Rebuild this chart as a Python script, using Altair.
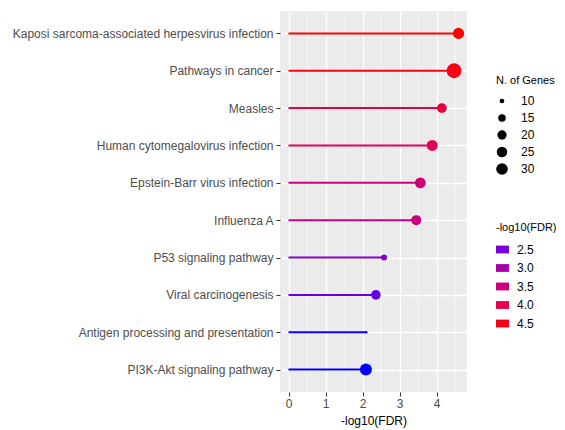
import altair as alt
import pandas as pd

pathways = [
    "Kaposi sarcoma-associated herpesvirus infection",
    "Pathways in cancer",
    "Measles",
    "Human cytomegalovirus infection",
    "Epstein-Barr virus infection",
    "Influenza A",
    "P53 signaling pathway",
    "Viral carcinogenesis",
    "Antigen processing and presentation",
    "PI3K-Akt signaling pathway",
]
neg_log10_fdr = [4.59, 4.47, 4.14, 3.88, 3.56, 3.45, 2.58, 2.36, 2.10, 2.09]
gene_counts = [28, 52, 22, 27, 26, 23, 12, 21, 8, 32]

x_ticks = [0, 1, 2, 3, 4]
x_minor = [0.5, 1.5, 2.5, 3.5, 4.5]
size_legend_values = [10, 15, 20, 25, 30]
color_legend_values = [2.5, 3.0, 3.5, 4.0, 4.5]

df = pd.DataFrame({"pathway": pathways, "fdr": neg_log10_fdr, "genes": gene_counts})
minor_df = pd.DataFrame({"m": x_minor})

xmax = max(neg_log10_fdr)
x_domain = [-0.05 * xmax, xmax * 1.05]

x_scale = alt.Scale(domain=x_domain, nice=False, zero=False)
x_axis = alt.Axis(
    values=x_ticks, title="-log10(FDR)", labelFontSize=12, labelColor="#4D4D4D",
    tickColor="#333333", tickSize=4, labelPadding=2, domain=False, grid=True,
    gridColor="white", gridWidth=1.3, titleFontSize=12, titleFontWeight="normal",
    titleColor="black", titlePadding=6,
)
y_enc = alt.Y(
    "pathway:N",
    sort=pathways,
    scale=alt.Scale(type="point", padding=0.6),
    axis=alt.Axis(
        title=None, labelFontSize=12, labelColor="#4D4D4D", tickColor="#333333",
        tickSize=4, labelPadding=3, domain=False, grid=True, gridColor="white",
        gridWidth=1.3, labelLimit=400,
    ),
)
color_scale = alt.Scale(
    domain=[min(neg_log10_fdr), max(neg_log10_fdr)], range=["#0000FF", "#FF0000"],
    interpolate="lab", zero=False, nice=False,
)
color_legend = alt.Legend(
    title="-log10(FDR)", type="symbol", values=color_legend_values, format=".1f",
    orient="none", legendX=216, legendY=211, symbolType="M-1,-0.6H1V0.6H-1Z",
    symbolSize=169, symbolStrokeWidth=0, labelFontSize=12, labelColor="black",
    titleFontSize=11, titleFontWeight="normal", titleColor="black",
    titlePadding=10, rowPadding=5.5, labelOffset=8, symbolOpacity=1,
)

minor = alt.Chart(minor_df).mark_rule(color="white", strokeWidth=0.6).encode(
    x=alt.X("m:Q", scale=x_scale, axis=x_axis, title="-log10(FDR)")
)

segs = alt.Chart(df).mark_rule(strokeWidth=2).encode(
    x=alt.X("zero:Q", scale=x_scale, axis=x_axis, title="-log10(FDR)"),
    x2="fdr:Q",
    y=y_enc,
    color=alt.Color("fdr:Q", scale=color_scale, legend=color_legend),
).transform_calculate(zero="0")

pts = alt.Chart(df).mark_circle(opacity=1).encode(
    x=alt.X("fdr:Q", scale=x_scale, axis=x_axis, title="-log10(FDR)"),
    y=y_enc,
    color=alt.Color("fdr:Q", scale=color_scale, legend=color_legend),
    size=alt.Size(
        "genes:Q",
        scale=alt.Scale(type="sqrt", domain=[min(gene_counts), max(gene_counts)],
                        range=[5.7, 219], zero=False),
        legend=alt.Legend(
            title="N. of Genes", values=size_legend_values, orient="none",
            legendX=216, legendY=64, symbolFillColor="black", symbolStrokeWidth=0,
            symbolOpacity=1, labelFontSize=12, labelColor="black", titleFontSize=11,
            titleFontWeight="normal", titleColor="black", titlePadding=9,
            rowPadding=5, labelOffset=13,
        ),
    ),
)

chart = alt.layer(minor, segs, pts).properties(
    width=187, height=381,
    padding={"left": 272, "top": 3, "right": 90, "bottom": 36},
    autosize=alt.AutoSizeParams(type="none"),
).configure(font="Liberation Sans").configure_view(fill="#EBEBEB", stroke=None)

chart.save("out.html", embed_options={"renderer": "svg", "actions": False})
